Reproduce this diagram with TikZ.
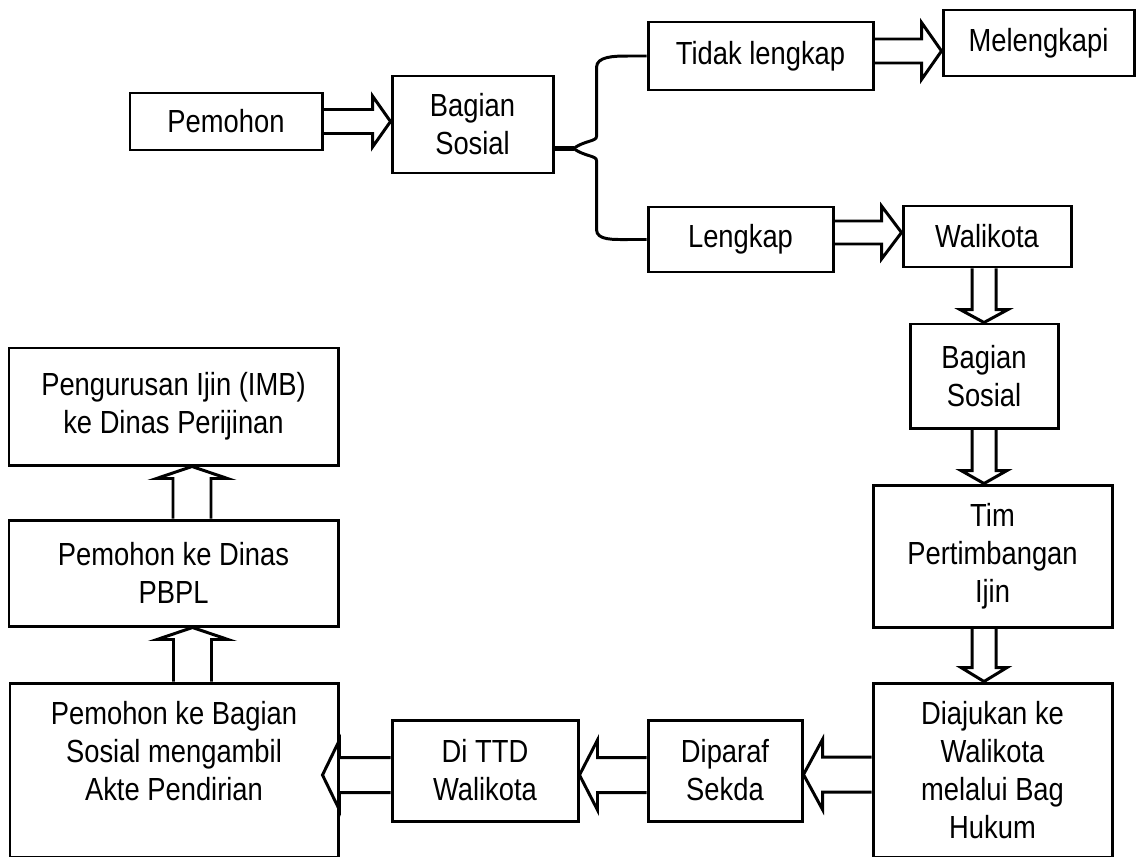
\documentclass[tikz,border=0pt]{standalone}
\usepackage{fontspec}
\setmainfont{Liberation Sans}[FakeStretch=0.855]
\usetikzlibrary{positioning,calc}

\tikzset{
  txt/.style={align=center, font=\fontsize{18.2}{21.6}\selectfont},
  box/.style={txt, draw, line width=1.7pt, inner sep=2pt},
  blockarr/.style={line width=1.7pt, line join=miter},
}

% block arrow: start, tip, half shaft, half head, head length
\newcommand{\blockarrow}[5]{%
  \path (#1) coordinate (ba-s);
  \path (#2) coordinate (ba-e);
  \path ($(ba-e)!#5!(ba-s)$) coordinate (ba-b);
  \draw[blockarr] ($(ba-s)!#3!90:(ba-e)$) -- ($(ba-b)!#3!90:(ba-e)$)
    -- ($(ba-b)!#4!90:(ba-e)$) -- (ba-e) -- ($(ba-b)!#4!-90:(ba-e)$)
    -- ($(ba-b)!#3!-90:(ba-e)$) -- ($(ba-s)!#3!-90:(ba-e)$);
}

\begin{document}
\begin{tikzpicture}
\useasboundingbox (0,0) rectangle (22.76,-17.12);

% top row
\node[box, minimum width=3.84cm, minimum height=1.14cm] (pemohon) at (4.52,-2.43) {Pemohon};
\node[box, minimum width=3.22cm, minimum height=1.94cm] (sosial) at (9.45,-2.49) {Bagian\\Sosial};
\node[box, minimum width=4.5cm, minimum height=1.36cm] (tidak) at (15.21,-1.12) {Tidak lengkap};
\node[box, minimum width=3.82cm, minimum height=1.32cm] (melengkapi) at (20.77,-0.86) {Melengkapi};
\node[box, minimum width=3.7cm, minimum height=1.3cm] (lengkap) at (14.81,-4.79) {Lengkap};
\node[box, minimum width=3.36cm, minimum height=1.22cm] (walikota) at (19.74,-4.73) {Walikota};

% right column
\node[box, minimum width=2.96cm, minimum height=2.08cm] (sosial2) at (19.68,-7.52) {Bagian\\Sosial};
\node[box, minimum width=4.78cm, minimum height=2.84cm] (tim) at (19.85,-11.12) {Tim\\Pertimbangan\\Ijin};
\node[box, minimum width=4.78cm, minimum height=3.48cm] (diajukan) at (19.85,-15.4) {Diajukan ke\\Walikota\\melalui Bag\\Hukum};

% bottom row
\node[box, minimum width=3.08cm, minimum height=2.02cm] (diparaf) at (14.5,-15.41) {Diparaf\\Sekda};
\node[box, minimum width=3.72cm, minimum height=2.02cm] (ttd) at (9.7,-15.41) {Di TTD\\Walikota};
\node[box, minimum width=6.56cm, minimum height=3.48cm] (ambil) at (3.48,-15.4) {};
\node[txt] (ambiltext) at (3.48,-15.02) {Pemohon ke Bagian\\Sosial mengambil\\Akte Pendirian};

% left column
\node[box, minimum width=6.58cm, minimum height=2.12cm] (pbpl) at (3.47,-11.46) {Pemohon ke Dinas\\PBPL};
\node[box, minimum width=6.58cm, minimum height=2.34cm] (ijin) at (3.47,-8.13) {Pengurusan Ijin (IMB)\\ke Dinas Perijinan};

% fork out of Bagian Sosial
\coordinate (fork) at ($(sosial.east)+(0.38,-0.48)$);
\draw[line width=2.6pt] (sosial.east |- fork) -- (fork);
\draw[line width=1.7pt] (fork) .. controls +(0.22,0.16) and +(0,-0.1) .. ++(0.46,0.24)
  -- ++(0,1.38) .. controls +(0,0.22) and +(-0.3,0) .. ($(tidak.west)+(-0.36,0)$) -- (tidak.west);
\draw[line width=1.7pt] (fork) .. controls +(0.22,-0.16) and +(0,0.1) .. ++(0.46,-0.24)
  -- ++(0,-1.38) .. controls +(0,-0.22) and +(-0.3,0) .. ($(lengkap.west)+(-0.36,0)$) -- (lengkap.west);

% block arrows
\blockarrow{pemohon.east}{sosial.west |- pemohon.east}{0.24cm}{0.51cm}{0.36cm}
\blockarrow{$(tidak.east)+(0,0.1)$}{melengkapi.west |- ba-s}{0.24cm}{0.57cm}{0.4cm}
\blockarrow{$(lengkap.east)+(0,0.14)$}{walikota.west |- ba-s}{0.23cm}{0.53cm}{0.4cm}
\blockarrow{sosial2.north |- walikota.south}{sosial2.north}{0.24cm}{0.48cm}{0.26cm}
\blockarrow{sosial2.south}{tim.north -| sosial2.south}{0.24cm}{0.46cm}{0.26cm}
\blockarrow{sosial2.south |- tim.south}{sosial2.south |- diajukan.north}{0.24cm}{0.46cm}{0.28cm}
\blockarrow{$(diajukan.west)+(0,-0.09)$}{diparaf.east |- ba-s}{0.35cm}{0.7cm}{0.38cm}
\blockarrow{$(diparaf.west)+(0,-0.09)$}{ttd.east |- ba-s}{0.35cm}{0.7cm}{0.36cm}
\blockarrow{$(ttd.west)+(0,-0.09)$}{$(ambil.east |- ba-s)+(-0.34,0)$}{0.35cm}{0.7cm}{0.34cm}
\blockarrow{$(ambil.north)+(0.37,0)$}{pbpl.south -| ba-s}{0.38cm}{0.71cm}{0.24cm}
\blockarrow{$(pbpl.north)+(0.37,0)$}{ijin.south -| ba-s}{0.38cm}{0.71cm}{0.24cm}

\end{tikzpicture}
\end{document}
